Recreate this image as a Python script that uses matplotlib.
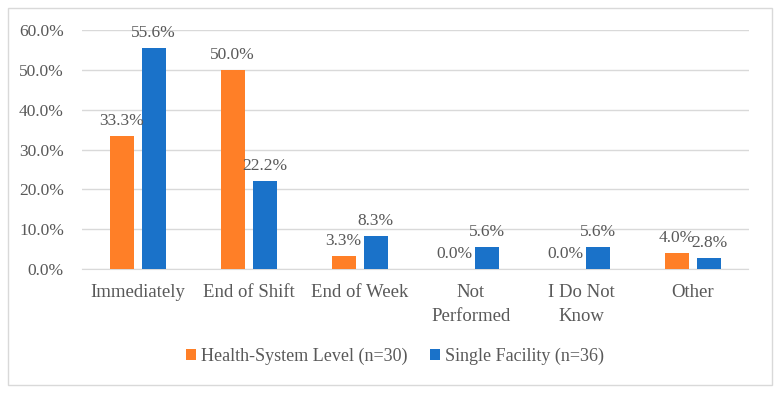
import numpy as np
import matplotlib
matplotlib.use('Agg')
import matplotlib.pyplot as plt
from matplotlib.patches import Rectangle

# Datos
categorias = ['Immediately', 'End of Shift', 'End of Week', 'Not\nPerformed', 'I Do Not\nKnow', 'Other']
sistema = [33.3, 50.0, 3.3, 0.0, 0.0, 4.0]
unica = [55.6, 22.2, 8.3, 5.6, 5.6, 2.8]
series = ['Health-System Level (n=30)', 'Single Facility (n=36)']
ticks_y = [0, 10, 20, 30, 40, 50, 60]

naranja = '#FF7F27'
azul = '#1A72C9'
gris = '#595959'

plt.rcParams['font.family'] = ['Liberation Serif', 'DejaVu Serif']

fig = plt.figure(figsize=(7.81, 3.94), dpi=100)
ax = fig.add_axes([82 / 781, 1 - 269 / 394, (748.5 - 82) / 781, (269 - 30) / 394])

x = np.arange(len(categorias))
ancho = 0.216
desp = 0.144

b1 = ax.bar(x - desp, sistema, ancho, color=naranja, label=series[0], zorder=3)
b2 = ax.bar(x + desp, unica, ancho, color=azul, label=series[1], zorder=3)

# Etiquetas de valor encima de cada barra
for barras, vals in ((b1, sistema), (b2, unica)):
    for b, v in zip(barras, vals):
        ax.annotate(f'{v:.1f}%', (b.get_x() + b.get_width() / 2, v), xytext=(0, 5),
                    textcoords='offset points', ha='center', va='bottom',
                    fontsize=12.5, color=gris, clip_on=False)

ax.set_xlim(-0.5, len(categorias) - 0.5)
ax.set_ylim(0, 60)
ax.set_yticks(ticks_y)
ax.set_yticklabels([f'{t:.1f}%' for t in ticks_y], fontsize=12.5)
ax.set_xticks(x)
ax.set_xticklabels(categorias, fontsize=13.5, linespacing=1.5)
ax.tick_params(axis='both', length=0, labelcolor=gris)
ax.tick_params(axis='y', pad=13)
ax.tick_params(axis='x', pad=11)
ax.grid(axis='y', color='#D9D9D9', linewidth=1, zorder=0)
for s in ('top', 'right', 'left'):
    ax.spines[s].set_visible(False)
ax.spines['bottom'].set_color('#D9D9D9')

leg = fig.legend(loc='center', bbox_to_anchor=(395 / 781, 1 - 356 / 394), ncol=2, frameon=False,
                 fontsize=13, handlelength=0.55, handleheight=0.55, handletextpad=0.25, columnspacing=1.3)
for t in leg.get_texts():
    t.set_color(gris)

# Marco exterior
fig.patches.append(Rectangle((8 / 781, 1 - 385 / 394), (772 - 8) / 781, (385 - 8) / 394,
                             transform=fig.transFigure, fill=False, edgecolor='#D9D9D9', linewidth=1))

fig.savefig('out.png', dpi=100)
